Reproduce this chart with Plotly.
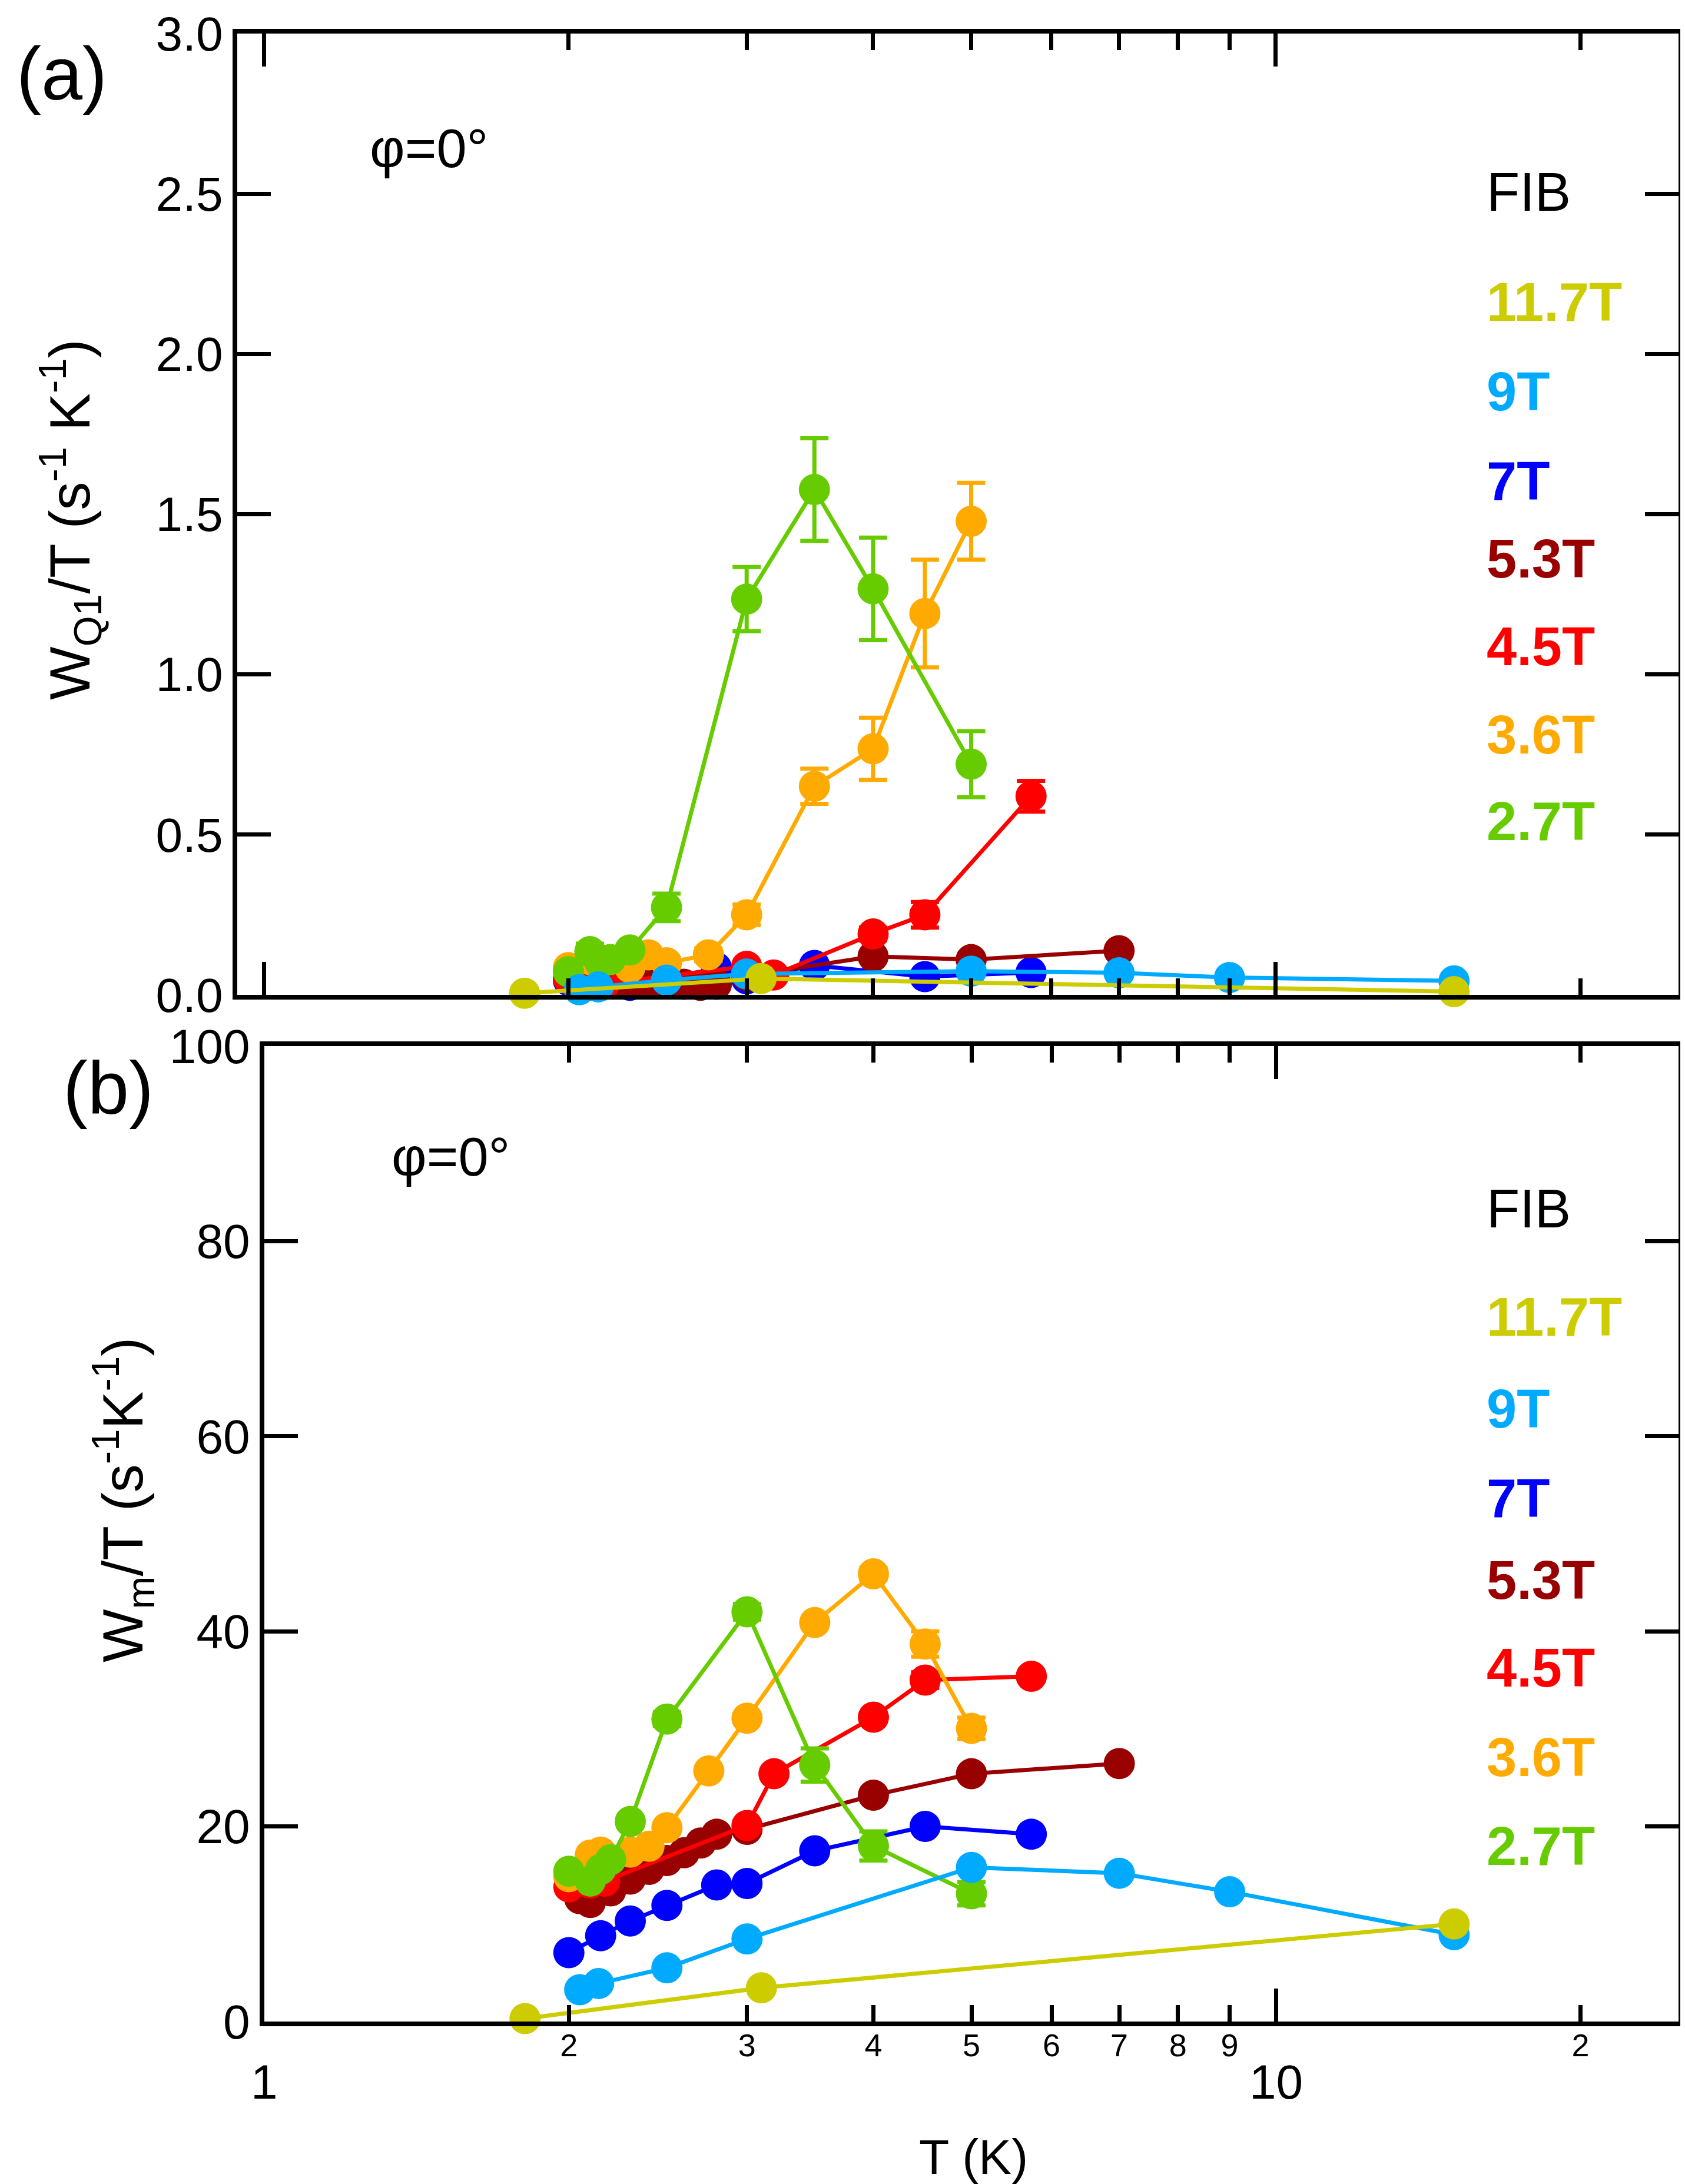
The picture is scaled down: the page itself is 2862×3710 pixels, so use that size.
import math
import plotly.graph_objects as go

W, H = 2862, 3710
FONT = "Liberation Sans, Arial, sans-serif"

# ---------------- data ----------------
# 11.7 T
T_117 = [1.81, 3.1, 15.0]
a_117 = [0.005, 0.051, 0.010]
b_117 = [0.3, 3.45, 10.0]

# 9 T
T_9 = [2.05, 2.14, 2.5, 3.0, 5.0, 7.0, 9.0, 15.0]
a_9 = [0.016, 0.025, 0.046, 0.065, 0.074, 0.069, 0.054, 0.0435]
b_9 = [3.26, 3.9, 5.5, 8.47, 15.8, 15.2, 13.3, 8.9]

# 7 T
T_7 = [2.0, 2.15, 2.3, 2.5, 2.8, 3.0, 3.5, 4.5, 5.73]
a_7 = [0.045, 0.03, 0.03, 0.04, 0.085, 0.05, 0.092, 0.057, 0.07]
b_7 = [7.06, 8.8, 10.3, 11.9, 14.0, 14.15, 17.5, 20.0, 19.2]

# 5.3 T
T_53 = [2.05, 2.1, 2.2, 2.3, 2.4, 2.5, 2.6, 2.7, 2.8, 3.0, 4.0, 5.0, 7.0]
a_53 = [0.03, 0.03, 0.035, 0.04, 0.04, 0.04, 0.033, 0.03, 0.033, 0.06, 0.12, 0.11, 0.138]
b_53 = [12.6, 12.2, 13.4, 14.6, 15.6, 16.5, 17.3, 18.3, 19.2, 19.7, 23.2, 25.4, 26.45]

# 4.5 T
T_45 = [2.0, 2.1, 2.17, 3.0, 3.19, 4.0, 4.5, 5.73]
a_45 = [0.05, 0.045, 0.035, 0.089, 0.062, 0.19, 0.25, 0.62]
ea_45 = [0, 0, 0, 0, 0, 0.02, 0.04, 0.048]
b_45 = [13.8, 14.2, 14.4, 20.1, 25.4, 31.2, 35.0, 35.4]
eb_45 = [0, 0, 0, 0, 0, 0, 0.8, 0.5]

# 3.6 T
T_36 = [2.0, 2.1, 2.15, 2.3, 2.4, 2.5, 2.75, 3.0, 3.5, 4.0, 4.5, 5.0]
a_36 = [0.085, 0.11, 0.11, 0.085, 0.125, 0.10, 0.125, 0.25, 0.651, 0.768, 1.19, 1.478]
ea_36 = [0, 0, 0, 0, 0, 0, 0.02, 0.032, 0.055, 0.097, 0.168, 0.12]
b_36 = [14.85, 17.06, 17.36, 17.36, 17.97, 19.87, 25.7, 31.1, 40.9, 45.9, 38.7, 30.05]
eb_36 = [0, 0, 0, 0, 0, 0, 0, 0, 0, 0.6, 1.3, 1.1]

# 2.7 T
T_27 = [2.0, 2.1, 2.15, 2.2, 2.3, 2.5, 3.0, 3.5, 4.0, 5.0]
a_27 = [0.072, 0.135, 0.10, 0.11, 0.14, 0.273, 1.235, 1.577, 1.267, 0.72]
ea_27 = [0, 0.025, 0, 0, 0.015, 0.043, 0.10, 0.16, 0.16, 0.103]
b_27 = [15.4, 14.4, 15.6, 16.6, 20.5, 31.0, 42.0, 26.3, 18.0, 13.1]
eb_27 = [0, 0, 0, 0, 0, 0.7, 0.8, 1.7, 1.5, 1.2]

fields = ["11.7T", "9T", "7T", "5.3T", "4.5T", "3.6T", "2.7T"]
colors = {"11.7T": "#CCCC00", "9T": "#00AAFF", "7T": "#0000FF", "5.3T": "#990000",
          "4.5T": "#FF0000", "3.6T": "#FFAA00", "2.7T": "#66CC00"}

x_minor_vals = [2, 3, 4, 5, 6, 7, 8, 9, 20]
x_minor_text = ["2", "3", "4", "5", "6", "7", "8", "9", "2"]
x_major_vals = [1, 10]
ya_ticks = [0.0, 0.5, 1.0, 1.5, 2.0, 2.5, 3.0]
yb_ticks = [0, 20, 40, 60, 80, 100]

series = {
    "11.7T": (T_117, a_117, None, b_117, None),
    "9T": (T_9, a_9, None, b_9, None),
    "7T": (T_7, a_7, None, b_7, None),
    "5.3T": (T_53, a_53, None, b_53, None),
    "4.5T": (T_45, a_45, ea_45, b_45, eb_45),
    "3.6T": (T_36, a_36, ea_36, b_36, eb_36),
    "2.7T": (T_27, a_27, ea_27, b_27, eb_27),
}
draw_order = ["7T", "5.3T", "4.5T", "3.6T", "2.7T", "9T", "11.7T"]

fig = go.Figure()
for name in draw_order:
    T, a, ea, b, eb = series[name]
    c = colors[name]
    for xa, ya, vals, errs, lw in (("x", "y", a, ea, 7), ("x2", "y2", b, eb, 7)):
        err = None
        if errs is not None:
            err = dict(type="data", array=errs, visible=True, color=c, thickness=7, width=24)
        fig.add_trace(go.Scatter(
            x=T, y=vals, xaxis=xa, yaxis=ya, mode="lines+markers",
            line=dict(color=c, width=lw),
            marker=dict(symbol="circle", size=53, color=c, line=dict(width=0)),
            error_y=err, cliponaxis=False, showlegend=False, name=name))

def px(x):
    return x / W

def py(y):
    return 1 - y / H

axis_common = dict(showline=True, linecolor="black", linewidth=8, mirror="ticks",
                   ticks="inside", tickcolor="black", tickwidth=7, showgrid=False,
                   zeroline=False, automargin=False,
                   tickfont=dict(family=FONT, size=82, color="black"))

fig.update_layout(
    width=W, height=H, margin=dict(l=0, r=0, t=0, b=0, autoexpand=False),
    paper_bgcolor="white", plot_bgcolor="white", showlegend=False,
    font=dict(family=FONT, color="black"),
    xaxis=dict(axis_common, type="log", range=[math.log10(0.9414), math.log10(25)],
               domain=[px(395), px(2843)], anchor="y",
               tickmode="array", tickvals=x_minor_vals, ticklen=28, showticklabels=False,
               minor=dict(tickmode="array", tickvals=x_major_vals, ticklen=56, ticks="inside",
                          tickwidth=7, tickcolor="black")),
    yaxis=dict(axis_common, range=[0, 3], domain=[py(1682), py(49)], anchor="x",
               tickmode="array", tickvals=ya_ticks, ticktext=[f"{v:.1f}" for v in ya_ticks],
               ticklen=57),
    xaxis2=dict(axis_common, type="log", range=[0, math.log10(25)],
                domain=[px(441), px(2843)], anchor="y2",
                tickmode="array", tickvals=x_minor_vals, ticktext=x_minor_text, ticklen=28,
                ticklabelstandoff=-14,
                tickfont=dict(family=FONT, size=54, color="black"),
                minor=dict(tickmode="array", tickvals=x_major_vals, ticklen=56, ticks="inside",
                           tickwidth=7, tickcolor="black")),
    yaxis2=dict(axis_common, range=[0, 100], domain=[py(3426), py(1769)], anchor="x2",
                tickmode="array", tickvals=yb_ticks, ticktext=[str(v) for v in yb_ticks],
                ticklen=57),
)

ann = []
# major x tick labels on panel (b)
for v in x_major_vals:
    ann.append(dict(x=math.log10(v), y=py(3528), xref="x2", yref="paper", text=str(v),
                    showarrow=False, xanchor="center", yanchor="middle",
                    font=dict(family=FONT, size=82, color="black")))
# axis titles
ann.append(dict(x=px(1646), y=py(3656), xref="paper", yref="paper", text="T (K)",
                showarrow=False, xanchor="center", yanchor="middle",
                font=dict(family=FONT, size=84, color="black")))
ann.append(dict(x=px(110), y=py(875), xref="paper", yref="paper",
                text="W<sub>Q1</sub>/T (s<sup>-1</sup> K<sup>-1</sup>)", textangle=-90,
                showarrow=False, xanchor="center", yanchor="middle",
                font=dict(family=FONT, size=96, color="black")))
ann.append(dict(x=px(200), y=py(2540), xref="paper", yref="paper",
                text="W<sub>m</sub>/T (s<sup>-1</sup>K<sup>-1</sup>)", textangle=-90,
                showarrow=False, xanchor="center", yanchor="middle",
                font=dict(family=FONT, size=96, color="black")))
# panel labels
ann.append(dict(x=px(97), y=py(118), xref="paper", yref="paper", text="(a)",
                showarrow=False, xanchor="center", yanchor="middle",
                font=dict(family=FONT, size=126, color="black")))
ann.append(dict(x=px(176), y=py(1840), xref="paper", yref="paper", text="(b)",
                showarrow=False, xanchor="center", yanchor="middle",
                font=dict(family=FONT, size=126, color="black")))
# phi labels
ann.append(dict(x=px(618), y=py(244), xref="paper", yref="paper", text="φ=0°",
                showarrow=False, xanchor="left", yanchor="middle",
                font=dict(family=FONT, size=92, color="black")))
ann.append(dict(x=px(655), y=py(1957), xref="paper", yref="paper", text="φ=0°",
                showarrow=False, xanchor="left", yanchor="middle",
                font=dict(family=FONT, size=92, color="black")))

# in-panel legends
leg_a = [318, 505, 657, 809, 941, 1090, 1240, 1387]
leg_b = [2045, 2229, 2385, 2537, 2676, 2825, 2977, 3128]
for ys in (leg_a, leg_b):
    ann.append(dict(x=px(2515), y=py(ys[0]), xref="paper", yref="paper", text="FIB",
                    showarrow=False, xanchor="left", yanchor="middle",
                    font=dict(family=FONT, size=92, color="black")))
    for name, yy in zip(fields, ys[1:]):
        ann.append(dict(x=px(2515), y=py(yy), xref="paper", yref="paper",
                        text=f"<b>{name}</b>", showarrow=False, xanchor="left",
                        yanchor="middle", font=dict(family=FONT, size=92, color=colors[name])))

fig.update_layout(annotations=ann)
fig.write_html("out.html")
